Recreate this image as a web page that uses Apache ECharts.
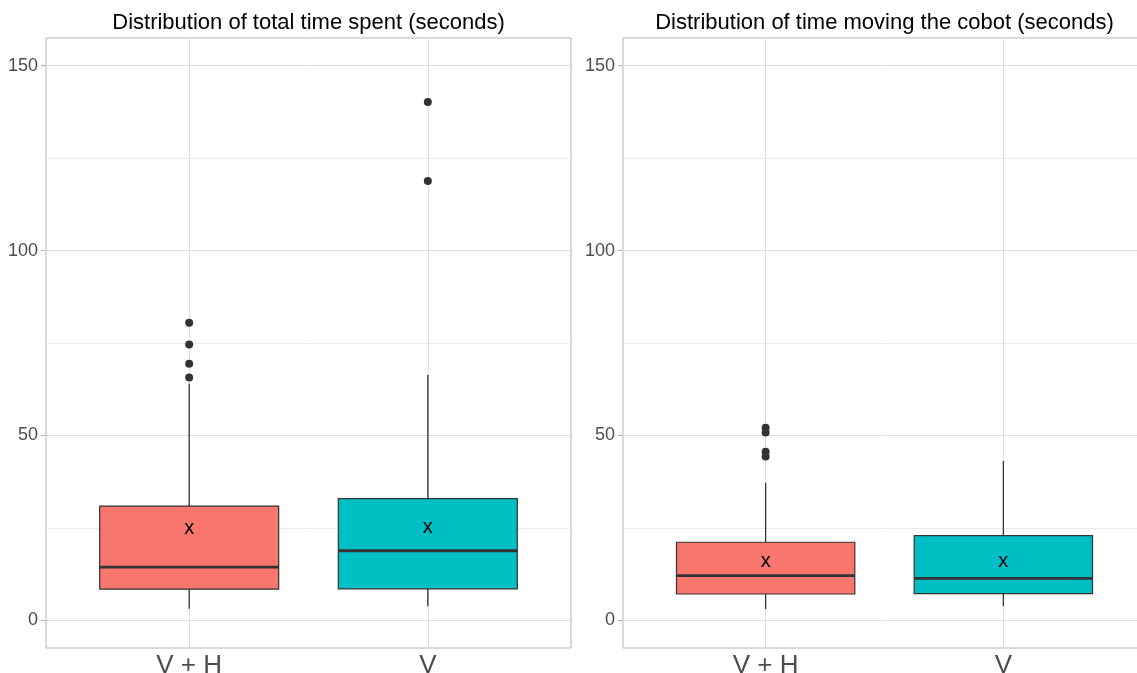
<!DOCTYPE html>
<html>
<head>
<meta charset="utf-8">
<script src="https://cdn.jsdelivr.net/npm/echarts@6/dist/echarts.min.js"></script>
<style>
  html, body { margin: 0; padding: 0; background: #ffffff; }
  #chart { width: 1137px; height: 673px; }
</style>
</head>
<body>
<div id="chart"></div>
<script>
// Groups shown on both panels
const categories = ['V + H', 'V'];
const panelTitles = [
  'Distribution of total time spent (seconds)',
  'Distribution of time moving the cobot (seconds)'
];
const yTicks = [0, 50, 100, 150];
const yMinorTicks = [25, 75, 125];

// Total time spent: [lower whisker, Q1, median, Q3, upper whisker]
const totalStats = [
  [3.1, 8.4, 14.4, 30.9, 64.0],
  [3.8, 8.5, 18.8, 32.9, 66.4]
];
const totalMeans = [24.8, 25.2];
const totalOutliers = [
  [80.5, 74.6, 69.4, 65.7],
  [140.2, 118.8]
];

// Time moving the cobot: [lower whisker, Q1, median, Q3, upper whisker]
const cobotStats = [
  [3.0, 7.1, 12.1, 21.1, 37.2],
  [3.8, 7.2, 11.35, 22.9, 43.1]
];
const cobotMeans = [15.9, 16.0];
const cobotOutliers = [
  [52.1, 50.8, 45.6, 44.3],
  []
];

const fills = ['#F8766D', '#00BFC4'];
const FONT = 'Liberation Sans';
const BOX_HALF = 0.375;

const panels = [
  { stats: totalStats, means: totalMeans, outliers: totalOutliers, left: 46, width: 525 },
  { stats: cobotStats, means: cobotMeans, outliers: cobotOutliers, left: 623, width: 523 }
];

function renderBox(params, api) {
  const x = api.value(0);
  const low = api.value(1), q1 = api.value(2), med = api.value(3),
        q3 = api.value(4), high = api.value(5), mean = api.value(6);
  const idx = api.value(7);
  const tl = api.coord([x - BOX_HALF, q3]);
  const br = api.coord([x + BOX_HALF, q1]);
  const c = api.coord([x, med]);
  const pLow = api.coord([x, low]);
  const pHigh = api.coord([x, high]);
  const pMean = api.coord([x, mean]);
  const stroke = '#333333';
  return {
    type: 'group',
    children: [
      { type: 'line', shape: { x1: pHigh[0], y1: pHigh[1], x2: pHigh[0], y2: tl[1] },
        style: { stroke, lineWidth: 1.3 } },
      { type: 'line', shape: { x1: pLow[0], y1: pLow[1], x2: pLow[0], y2: br[1] },
        style: { stroke, lineWidth: 1.3 } },
      { type: 'rect', shape: { x: tl[0], y: tl[1], width: br[0] - tl[0], height: br[1] - tl[1] },
        style: { fill: fills[idx], stroke, lineWidth: 1.2 } },
      { type: 'line', shape: { x1: tl[0], y1: c[1], x2: br[0], y2: c[1] },
        style: { stroke, lineWidth: 2.8 } },
      // mean marker
      { type: 'text', x: pMean[0], y: pMean[1],
        style: { text: 'x', textAlign: 'center', textVerticalAlign: 'middle',
                 fontSize: 20, fontFamily: FONT, fill: '#000000' } }
    ]
  };
}

const grids = [], xAxes = [], yAxes = [], series = [], graphics = [];

panels.forEach((p, i) => {
  grids.push({
    left: p.left, top: 38, width: p.width, height: 610,
    outerBoundsMode: 'none', containLabel: false,
    show: true, borderColor: '#b3b3b3', borderWidth: 1, backgroundColor: '#ffffff'
  });
  xAxes.push({
    gridIndex: i, type: 'value', min: 0.4, max: 2.6,
    axisLine: { show: false },
    axisTick: { show: true, length: 5, customValues: [1, 2], lineStyle: { color: '#b3b3b3', width: 1 } },
    axisLabel: {
      customValues: [1, 2], margin: 5, fontSize: 26, fontFamily: FONT, color: '#4d4d4d',
      formatter: v => categories[Math.round(v) - 1]
    },
    splitLine: { show: false }
  });
  yAxes.push({
    gridIndex: i, type: 'value', min: -7.5, max: 157.5,
    axisLine: { show: false },
    axisTick: { show: true, length: 5, customValues: yTicks, lineStyle: { color: '#b3b3b3', width: 1 } },
    axisLabel: { customValues: yTicks, margin: 8, fontSize: 18, fontFamily: FONT, color: '#4d4d4d' },
    splitLine: { show: false }
  });

  // panel grid lines
  series.push({
    type: 'line', xAxisIndex: i, yAxisIndex: i, data: [], z: 1, silent: true,
    markLine: {
      z: 1, silent: true, symbol: 'none', label: { show: false }, animation: false,
      data: [
        ...yMinorTicks.map(v => ({ yAxis: v, lineStyle: { color: '#ebebeb', width: 1, type: 'solid' } })),
        ...yTicks.map(v => ({ yAxis: v, lineStyle: { color: '#dedede', width: 1, type: 'solid' } })),
        ...categories.map((c, k) => ({ xAxis: k + 1, lineStyle: { color: '#dedede', width: 1, type: 'solid' } }))
      ]
    }
  });

  // boxes
  series.push({
    type: 'custom', xAxisIndex: i, yAxisIndex: i, z: 3, silent: true,
    renderItem: renderBox,
    data: p.stats.map((s, k) => [k + 1, ...s, p.means[k], k]),
    clip: false
  });

  // outliers
  const pts = [];
  p.outliers.forEach((arr, k) => arr.forEach(v => pts.push([k + 1, v])));
  series.push({
    type: 'scatter', xAxisIndex: i, yAxisIndex: i, z: 4, silent: true,
    symbol: 'circle', symbolSize: 8,
    itemStyle: { color: '#333333', opacity: 1 },
    data: pts
  });

  graphics.push({
    type: 'text', x: p.left + p.width / 2, y: 23,
    style: { text: panelTitles[i], textAlign: 'center', textVerticalAlign: 'middle',
             fontSize: 22, fontFamily: FONT, fill: '#000000' }
  });
});

const chart = echarts.init(document.getElementById('chart'), null, { renderer: 'canvas' });
chart.setOption({
  animation: false,
  backgroundColor: '#ffffff',
  grid: grids,
  xAxis: xAxes,
  yAxis: yAxes,
  series: series,
  graphic: graphics
});
</script>
</body>
</html>
